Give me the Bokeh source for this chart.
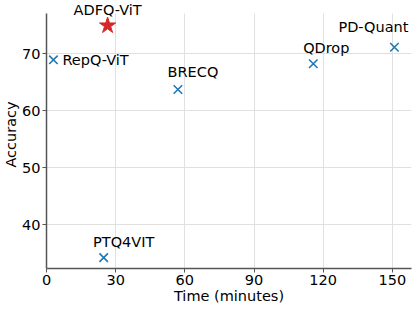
from bokeh.plotting import figure
from bokeh.models import ColumnDataSource, Range1d, FixedTicker, BoxAnnotation
from bokeh.embed import file_html
from bokeh.resources import INLINE
from bokeh.core.properties import value

methods = ["RepQ-ViT", "BRECQ", "QDrop", "PD-Quant", "PTQ4VIT"]
times = [3, 57, 115.7, 150.9, 24.8]
accs = [68.9, 63.7, 68.2, 71.1, 34.2]

ours_name = ["ADFQ-ViT"]
ours_time = [26.5]
ours_acc = [74.9]

x_ticks = [0, 30, 60, 90, 120, 150]
y_ticks = [40, 50, 60, 70]

# label offsets in screen pixels (style)
lab_dx = [9, 15, 13, -21, 20]
lab_dy = [0, -17, -16, -20, -16]
lab_align = ["left", "center", "center", "center", "center"]

FONT = "DejaVu Sans"
FS = "14.5px"
Y_LO, Y_HI = 32.3, 77.0      # visible axis extent
Y_PAD = 79.3                 # extra headroom for the top label

p = figure(width=413, height=309, output_backend="svg", toolbar_location=None,
           x_range=Range1d(0, 158.3), y_range=Range1d(Y_LO, Y_PAD),
           min_border_left=39, min_border_right=2, min_border_top=0, min_border_bottom=41)
p.outline_line_color = None

# white cover hiding grid above the axis top
p.add_layout(BoxAnnotation(bottom=Y_HI, fill_color="white", fill_alpha=1.0,
                           line_color=None, level="underlay"))

src = ColumnDataSource(dict(x=times, y=accs, name=methods, dx=lab_dx, dy=lab_dy, align=lab_align))
p.scatter("x", "y", source=src, marker="x", size=12, line_color="#1f77b4", line_width=1.6)
p.text("x", "y", text="name", source=src, x_offset="dx", y_offset="dy", text_align="align",
       text_baseline="middle", text_font=value(FONT), text_font_size=FS, text_color="black")

src2 = ColumnDataSource(dict(x=ours_time, y=ours_acc, name=ours_name))
p.scatter("x", "y", source=src2, marker="star", size=17, fill_color="#d62728", line_color="#d62728")
p.text("x", "y", text="name", source=src2, x_offset=0, y_offset=-16, text_align="center",
       text_baseline="middle", text_font=value(FONT), text_font_size=FS, text_color="black")

p.xaxis.ticker = FixedTicker(ticks=x_ticks)
p.yaxis.ticker = FixedTicker(ticks=y_ticks)
p.yaxis.bounds = (Y_LO, Y_HI)
p.xaxis.axis_label = "Time (minutes)"
p.yaxis.axis_label = "Accuracy"
for ax in (p.xaxis, p.yaxis):
    ax.axis_label_text_font = FONT
    ax.axis_label_text_font_size = FS
    ax.axis_label_text_font_style = "normal"
    ax.axis_label_text_color = "black"
    ax.major_label_text_font = FONT
    ax.major_label_text_font_size = FS
    ax.major_label_text_color = "black"
    ax.axis_line_color = "#555555"
    ax.axis_line_width = 1.5
    ax.major_tick_line_color = "#555555"
    ax.major_tick_out = 4
    ax.major_tick_in = 0
    ax.minor_tick_out = 0
    ax.minor_tick_in = 0
    ax.major_label_standoff = 2
    ax.axis_label_standoff = 0
p.yaxis.major_label_standoff = 2
p.yaxis.axis_label_standoff = 0

p.xgrid.grid_line_color = "#e0e0e0"
p.ygrid.grid_line_color = "#e0e0e0"
p.xgrid.grid_line_width = 1
p.ygrid.grid_line_width = 1

open("out.html", "w").write(file_html(p, INLINE))
